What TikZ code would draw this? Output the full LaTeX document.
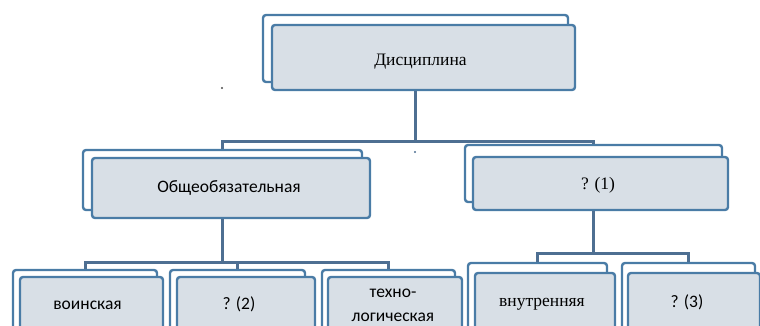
\documentclass[tikz,border=0pt]{standalone}
\usepackage{fontspec}
\setmainfont{Liberation Serif}
\newfontfamily\sansf{Carlito}
\definecolor{bordc}{HTML}{4A7CA6}
\definecolor{boxfill}{HTML}{D8DFE6}
\definecolor{linec}{HTML}{4E6F92}
\tikzset{
  backsheet/.style={draw=bordc, line width=2.4pt, fill=white, rounded corners=3pt, inner sep=0pt},
  frontbox/.style={draw=bordc, line width=2.4pt, fill=boxfill, rounded corners=3pt, inner sep=0pt},
  conn/.style={draw=linec, line width=3pt},
  serift/.style={font=\fontsize{17.5}{19}\selectfont, inner sep=0pt},
  sanst/.style={font=\sansf\fontsize{17.5}{24}\selectfont, inner sep=0pt, align=center},
}
\begin{document}
\begin{tikzpicture}[x=1pt,y=-1pt]
\useasboundingbox (0,0) rectangle (760,325);
\clip (0,0) rectangle (760,325);
% top
\node[backsheet, minimum width=305pt, minimum height=67pt] (dback) at (415.5,48.5) {};
\node[frontbox, minimum width=303pt, minimum height=65pt] (dfront) at (423.5,57.5) {};
\node[serift] (dtxt) at (420.5,61.5) {Дисциплина};
% level 2
\node[backsheet, minimum width=279pt, minimum height=60pt] (oback) at (222.5,180) {};
\node[frontbox, minimum width=278pt, minimum height=60pt] (ofront) at (231,188) {};
\node[sanst] (otxt) at (229,188) {Общеобязательная};
\node[backsheet, minimum width=257pt, minimum height=57pt] (qback) at (593.5,173.5) {};
\node[frontbox, minimum width=255pt, minimum height=53pt] (qfront) at (600.5,183.5) {};
\node[serift] (qtxt) at (598,185.5) {? (1)};
% level 3
\node[backsheet, minimum width=144pt, minimum height=70pt] (vback) at (85,305) {};
\node[frontbox, minimum width=143pt, minimum height=68pt] (vfront) at (91.5,311) {};
\node[sanst] (vtxt) at (87.5,305) {воинская};
\node[backsheet, minimum width=135pt, minimum height=70pt] (q2back) at (237.5,305) {};
\node[frontbox, minimum width=138pt, minimum height=68pt] (q2front) at (246,311) {};
\node[sanst] (q2txt) at (239,304) {? (2)};
\node[backsheet, minimum width=133pt, minimum height=70pt] (tback) at (388.5,305) {};
\node[frontbox, minimum width=134pt, minimum height=68pt] (tfront) at (395,311) {};
\node[sanst] (ttxt) at (393,305) {техно-\\логическая};
\node[backsheet, minimum width=139pt, minimum height=77pt] (iback) at (537.5,301.5) {};
\node[frontbox, minimum width=140pt, minimum height=72pt] (ifront) at (545,309) {};
\node[serift] (itxt) at (542,304) {внутренняя};
\node[backsheet, minimum width=133pt, minimum height=77pt] (q3back) at (688.5,301.5) {};
\node[frontbox, minimum width=132pt, minimum height=72pt] (q3front) at (694,309) {};
\node[sanst] (q3txt) at (687,302) {? (3)};
% connectors
\draw[conn] (dback.south |- dfront.south) -- (dback.south |- 0,141) -| (oback.north);
\draw[conn] (dback.south |- 0,141) -| (qback.north);
\draw[conn] (oback.south |- ofront.south) -- (oback.south |- 0,262) -| (vback.north);
\draw[conn] (oback.south |- 0,262) -| (q2back.north);
\draw[conn] (oback.south |- 0,262) -| (tback.north);
\draw[conn] (qback.south |- qfront.south) -- (qback.south |- 0,253) -| (iback.north);
\draw[conn] (qback.south |- 0,253) -| (q3back.north);
% stray dots
\fill[black!70] (222,88) circle (1.1pt);
\fill[linec] (415,152) circle (1.2pt);
\end{tikzpicture}
\end{document}
